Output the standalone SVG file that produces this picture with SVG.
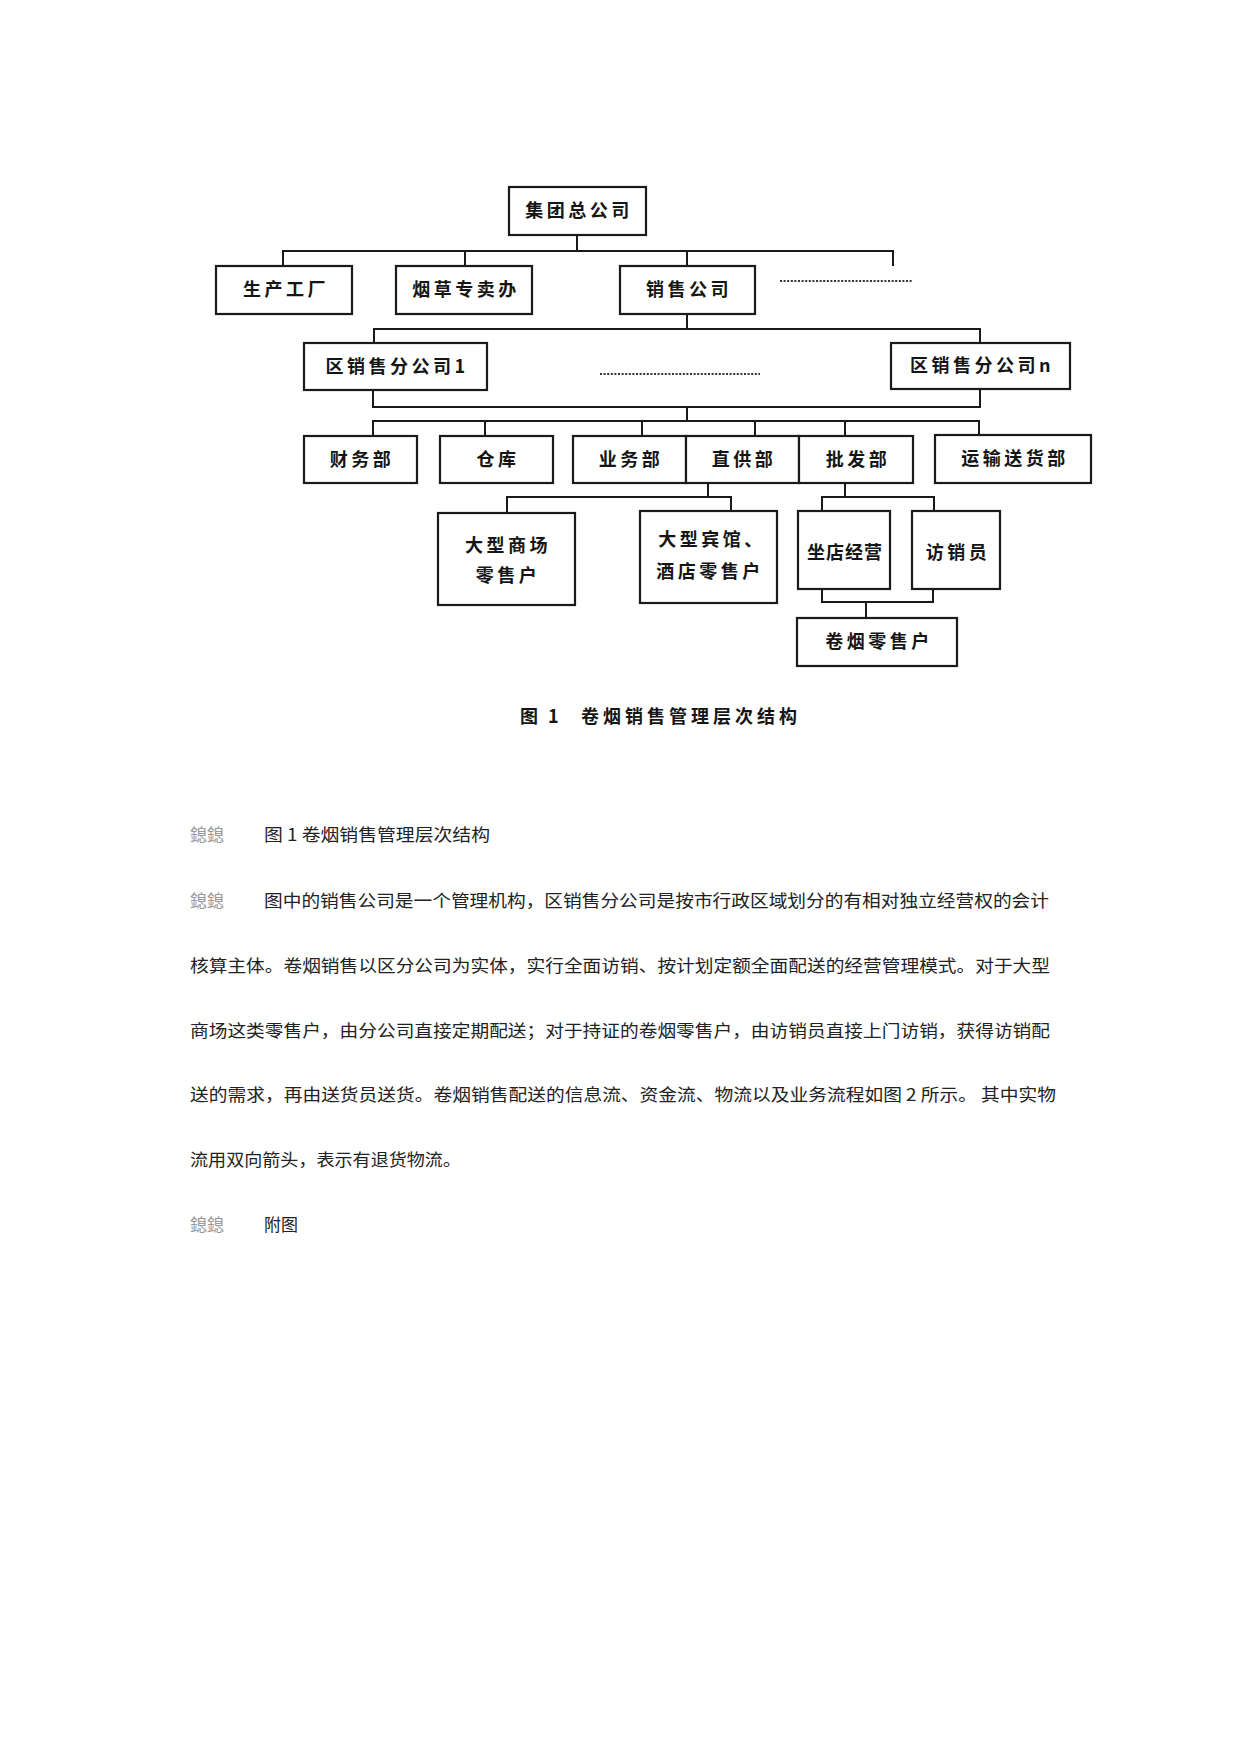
<svg xmlns="http://www.w3.org/2000/svg" width="1241" height="1754" viewBox="0 0 1241 1754">
<style>
.box{fill:#fff;stroke:#1a1a1a;stroke-width:2.2}
.ln{fill:none;stroke:#1a1a1a;stroke-width:2}
.dot{fill:none;stroke:#333;stroke-width:2;stroke-dasharray:2 1.6}
.nt{font-family:"Noto Sans CJK SC","Noto Sans",sans-serif;font-size:18px;font-weight:bold;fill:#151515;text-anchor:middle;letter-spacing:3.5px}
.cap{font-family:"Noto Sans CJK SC","Noto Sans",sans-serif;font-size:18px;font-weight:bold;fill:#151515;letter-spacing:4px}
.body{font-family:"Noto Sans CJK SC","Noto Sans",sans-serif;font-size:17px;fill:#222}
.gray{font-family:"Noto Sans CJK SC","Noto Sans",sans-serif;font-size:17px;fill:#9a9a9a}
</style>
<rect width="1241" height="1754" fill="#fff"/>
<g id="connectors">
<path class="ln" d="M577,235 V251 M283,266 V251 H893 V266 M465,251 V266 M687,251 V266"/>
<path class="ln" d="M687,314 V329 M374,343 V329 H980 V343"/>
<path class="ln" d="M373,390 V407 H980 V389 M687,407 V421"/>
<path class="ln" d="M373,436 V421 H979 V435 M485,421 V436 M642,421 V436 M755,421 V436 M845,421 V436"/>
<path class="ln" d="M708,483 V497 M507,513 V497 H731 V511"/>
<path class="ln" d="M845,483 V497 M822,511 V497 H934 V511"/>
<path class="ln" d="M822,589 V602 H933 V589 M866,602 V618"/>
<path class="dot" d="M780,281 H912"/>
<path class="dot" d="M600,374 H760"/>
</g>
<g id="n-jituan"><rect class="box" x="509" y="187" width="137" height="48"/><text class="nt" x="579" y="217">集团总公司</text></g>
<g id="n-shengchan"><rect class="box" x="216" y="266" width="136" height="48"/><text class="nt" x="286" y="296">生产工厂</text></g>
<g id="n-yancao"><rect class="box" x="396" y="266" width="136" height="48"/><text class="nt" x="466" y="296">烟草专卖办</text></g>
<g id="n-xiaoshou"><rect class="box" x="620" y="266" width="135" height="48"/><text class="nt" x="689" y="296">销售公司</text></g>
<g id="n-qu1"><rect class="box" x="304" y="343" width="183" height="47"/><text class="nt" x="397" y="373">区销售分公司1</text></g>
<g id="n-qun"><rect class="box" x="891" y="343" width="179" height="46"/><text class="nt" x="982" y="372">区销售分公司n</text></g>
<g id="n-caiwu"><rect class="box" x="304" y="436" width="113" height="47"/><text class="nt" x="362" y="466">财务部</text></g>
<g id="n-cangku"><rect class="box" x="440" y="436" width="113" height="47"/><text class="nt" x="498" y="466">仓库</text></g>
<g id="n-yewu"><rect class="box" x="573" y="436" width="113" height="47"/><text class="nt" x="631" y="466">业务部</text></g>
<g id="n-zhigong"><rect class="box" x="686" y="436" width="113" height="47"/><text class="nt" x="744" y="466">直供部</text></g>
<g id="n-pifa"><rect class="box" x="799" y="436" width="114" height="47"/><text class="nt" x="858" y="466">批发部</text></g>
<g id="n-yunshu"><rect class="box" x="935" y="435" width="156" height="48"/><text class="nt" x="1015" y="465">运输送货部</text></g>
<g id="n-shangchang"><rect class="box" x="438" y="513" width="137" height="92"/><text class="nt" x="508" y="552">大型商场</text><text class="nt" x="508" y="582">零售户</text></g>
<g id="n-binguan"><rect class="box" x="640" y="511" width="137" height="92"/><text class="nt" x="712" y="546">大型宾馆、</text><text class="nt" x="710" y="578">酒店零售户</text></g>
<g id="n-zuodian"><rect class="box" x="798" y="511" width="92" height="78"/><text class="nt" x="845" y="559" style="letter-spacing:1px">坐店经营</text></g>
<g id="n-fangxiao"><rect class="box" x="912" y="511" width="88" height="78"/><text class="nt" x="958" y="559">访销员</text></g>
<g id="n-lingshou"><rect class="box" x="797" y="618" width="160" height="48"/><text class="nt" x="879" y="648">卷烟零售户</text></g>
<text class="cap" x="520" y="723">图<tspan x="548">1</tspan><tspan x="581">卷烟销售管理层次结构</tspan></text>
<text class="gray" x="190" y="841">鎴鎴</text><text class="body" x="264" y="841" textLength="226" lengthAdjust="spacingAndGlyphs">图 1  卷烟销售管理层次结构</text>
<text class="gray" x="190" y="907">鎴鎴</text><text class="body" x="264" y="907" textLength="785" lengthAdjust="spacingAndGlyphs">图中的销售公司是一个管理机构，区销售分公司是按市行政区域划分的有相对独立经营权的会计</text>
<text class="body" x="190" y="972" textLength="860" lengthAdjust="spacingAndGlyphs">核算主体。卷烟销售以区分公司为实体，实行全面访销、按计划定额全面配送的经营管理模式。对于大型</text>
<text class="body" x="190" y="1037" textLength="860" lengthAdjust="spacingAndGlyphs">商场这类零售户，由分公司直接定期配送；对于持证的卷烟零售户，由访销员直接上门访销，获得访销配</text>
<text class="body" x="190" y="1101" textLength="866" lengthAdjust="spacingAndGlyphs">送的需求，再由送货员送货。卷烟销售配送的信息流、资金流、物流以及业务流程如图 2 所示。 其中实物</text>
<text class="body" x="190" y="1166" textLength="271" lengthAdjust="spacingAndGlyphs">流用双向箭头，表示有退货物流。</text>
<text class="gray" x="190" y="1231">鎴鎴</text><text class="body" x="264" y="1231">附图</text>
</svg>
